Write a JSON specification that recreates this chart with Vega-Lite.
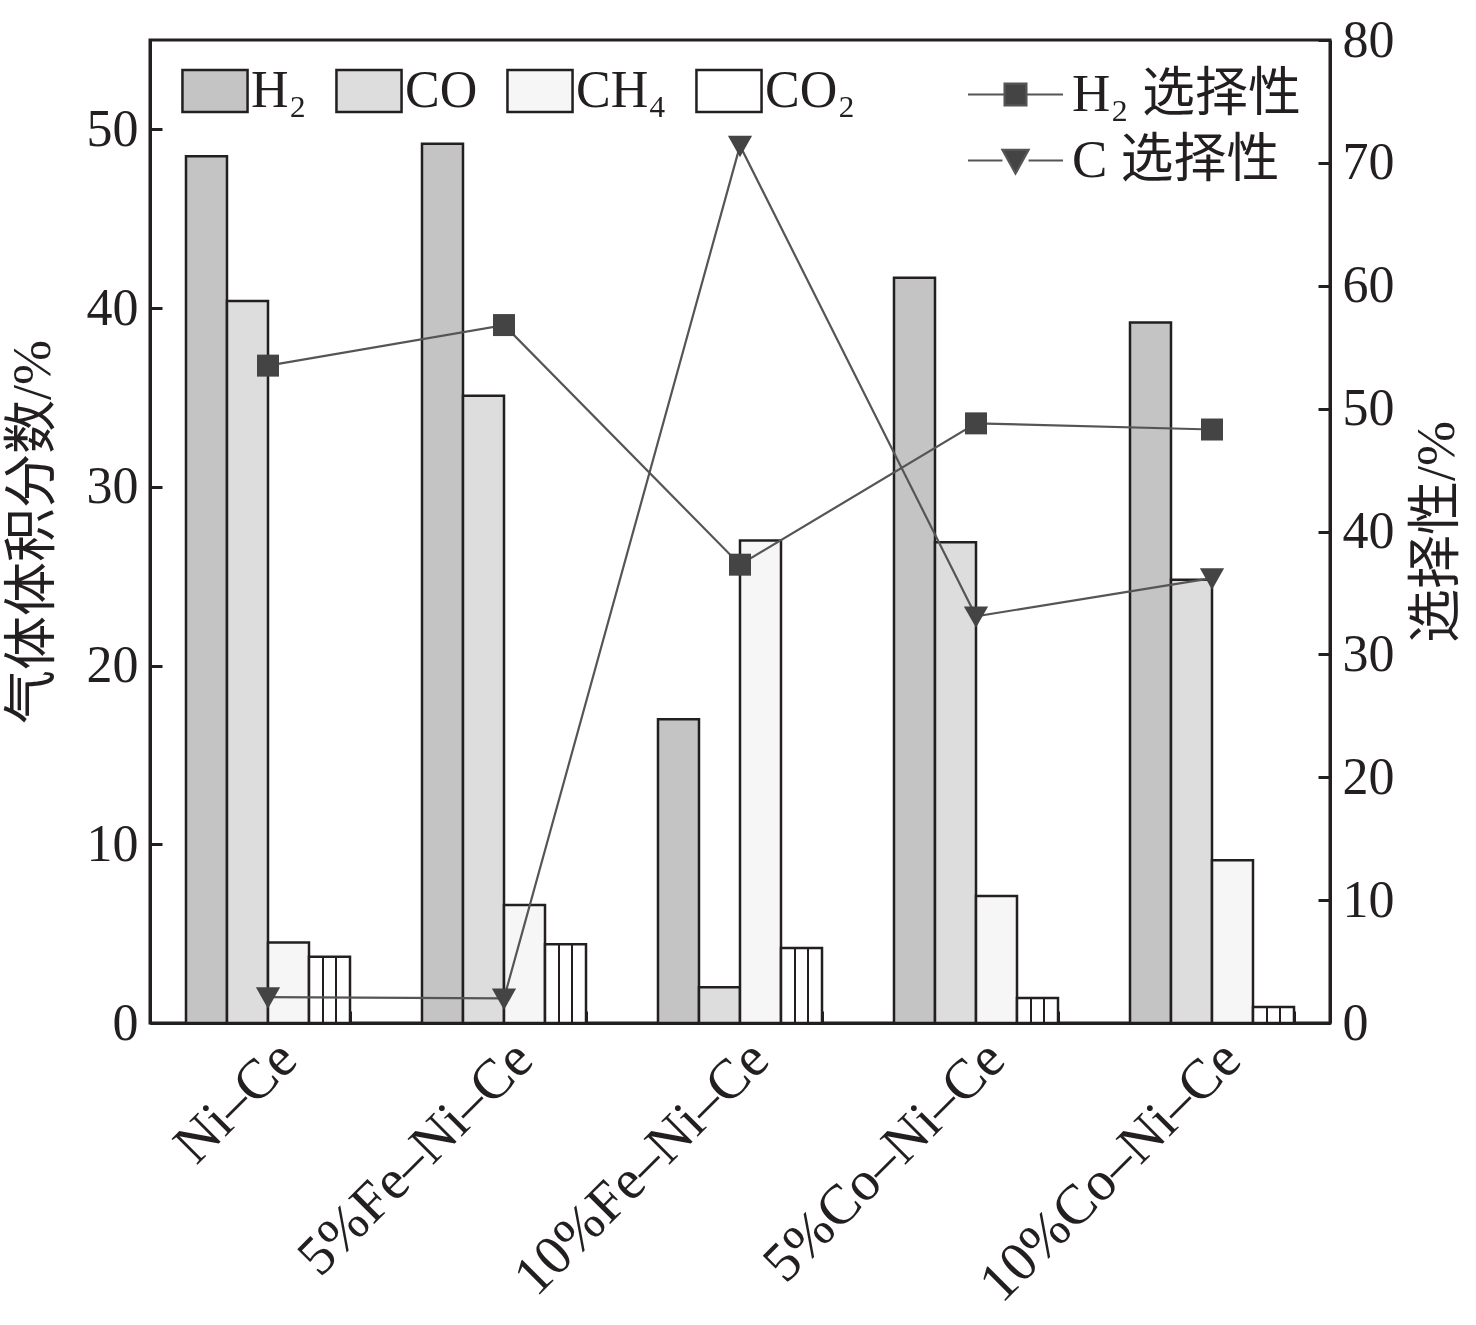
{
  "$schema": "https://vega.github.io/schema/vega-lite/v6.json",
  "autosize": "none",
  "width": 1180,
  "height": 983,
  "padding": {"left": 150, "top": 40, "right": 146, "bottom": 302},
  "background": "white",
  "config": {
    "font": "Liberation Serif, Noto Sans CJK SC, serif",
    "view": {"stroke": "#231f20", "strokeWidth": 3},
    "axis": {
      "domainColor": "#231f20",
      "domainWidth": 3,
      "tickColor": "#231f20",
      "tickWidth": 3,
      "labelColor": "#231f20",
      "titleColor": "#231f20",
      "labelFont": "Liberation Serif",
      "titleFont": "Liberation Serif, Noto Sans CJK SC",
      "titleFontWeight": "normal",
      "labelLimit": 0,
      "grid": false
    },
    "legend": {
      "labelFont": "Liberation Serif, Noto Sans CJK SC",
      "labelColor": "#231f20",
      "labelLimit": 0,
      "padding": 0
    }
  },
  "datasets": {
    "bars": [
      {"cat": "Ni–Ce", "gas": "H₂", "v": 48.5},
      {"cat": "Ni–Ce", "gas": "CO", "v": 40.4},
      {"cat": "Ni–Ce", "gas": "CH₄", "v": 4.5},
      {"cat": "Ni–Ce", "gas": "CO₂", "v": 3.7},
      {"cat": "5%Fe–Ni–Ce", "gas": "H₂", "v": 49.2},
      {"cat": "5%Fe–Ni–Ce", "gas": "CO", "v": 35.1},
      {"cat": "5%Fe–Ni–Ce", "gas": "CH₄", "v": 6.6},
      {"cat": "5%Fe–Ni–Ce", "gas": "CO₂", "v": 4.4},
      {"cat": "10%Fe–Ni–Ce", "gas": "H₂", "v": 17.0},
      {"cat": "10%Fe–Ni–Ce", "gas": "CO", "v": 2.0},
      {"cat": "10%Fe–Ni–Ce", "gas": "CH₄", "v": 27.0},
      {"cat": "10%Fe–Ni–Ce", "gas": "CO₂", "v": 4.2},
      {"cat": "5%Co–Ni–Ce", "gas": "H₂", "v": 41.7},
      {"cat": "5%Co–Ni–Ce", "gas": "CO", "v": 26.9},
      {"cat": "5%Co–Ni–Ce", "gas": "CH₄", "v": 7.1},
      {"cat": "5%Co–Ni–Ce", "gas": "CO₂", "v": 1.4},
      {"cat": "10%Co–Ni–Ce", "gas": "H₂", "v": 39.2},
      {"cat": "10%Co–Ni–Ce", "gas": "CO", "v": 24.8},
      {"cat": "10%Co–Ni–Ce", "gas": "CH₄", "v": 9.1},
      {"cat": "10%Co–Ni–Ce", "gas": "CO₂", "v": 0.9}
    ],
    "sel": [
      {"cat": "Ni–Ce", "series": "H₂ 选择性", "s": 53.5},
      {"cat": "5%Fe–Ni–Ce", "series": "H₂ 选择性", "s": 56.8},
      {"cat": "10%Fe–Ni–Ce", "series": "H₂ 选择性", "s": 37.3},
      {"cat": "5%Co–Ni–Ce", "series": "H₂ 选择性", "s": 48.8},
      {"cat": "10%Co–Ni–Ce", "series": "H₂ 选择性", "s": 48.3},
      {"cat": "Ni–Ce", "series": "C 选择性", "s": 2.1},
      {"cat": "5%Fe–Ni–Ce", "series": "C 选择性", "s": 2.0},
      {"cat": "10%Fe–Ni–Ce", "series": "C 选择性", "s": 71.4},
      {"cat": "5%Co–Ni–Ce", "series": "C 选择性", "s": 33.1},
      {"cat": "10%Co–Ni–Ce", "series": "C 选择性", "s": 36.2}
    ]
  },
  "encoding": {
    "x": {
      "field": "cat",
      "type": "nominal",
      "sort": ["Ni–Ce", "5%Fe–Ni–Ce", "10%Fe–Ni–Ce", "5%Co–Ni–Ce", "10%Co–Ni–Ce"],
      "scale": {"paddingInner": 0.305, "paddingOuter": 0.1525},
      "axis": {
        "title": null,
        "labelAngle": -45,
        "labelFontSize": 56,
        "tickBand": "extent",
        "tickSize": -12,
        "labelPadding": 20
      }
    }
  },
  "layer": [
    {
      "data": {"name": "bars"},
      "mark": {"type": "bar", "stroke": "#231f20", "strokeWidth": 2.5},
      "encoding": {
        "xOffset": {
          "field": "gas",
          "type": "nominal",
          "sort": ["H₂", "CO", "CH₄", "CO₂"],
          "scale": {"paddingInner": 0, "paddingOuter": 0}
        },
        "y": {
          "field": "v",
          "type": "quantitative",
          "scale": {"domain": [0, 55], "nice": false},
          "axis": {
            "title": "气体体积分数/%",
            "titleFontSize": 54,
            "titlePadding": 26,
            "labelFontSize": 52,
            "values": [0, 10, 20, 30, 40, 50],
            "tickSize": -12,
            "labelPadding": 24
          }
        },
        "fill": {
          "condition": {
            "test": "datum.gas == 'CO₂'",
            "value": {
              "gradient": "linear",
              "x1": 0, "y1": 0, "x2": 1, "y2": 0,
              "stops": [
                {"offset": 0, "color": "#ffffff"},
                {"offset": 0.315, "color": "#ffffff"},
                {"offset": 0.315, "color": "#231f20"},
                {"offset": 0.355, "color": "#231f20"},
                {"offset": 0.355, "color": "#ffffff"},
                {"offset": 0.645, "color": "#ffffff"},
                {"offset": 0.645, "color": "#231f20"},
                {"offset": 0.685, "color": "#231f20"},
                {"offset": 0.685, "color": "#ffffff"},
                {"offset": 1, "color": "#ffffff"}
              ]
            }
          },
          "field": "gas",
          "type": "nominal",
          "scale": {
            "domain": ["H₂", "CO", "CH₄", "CO₂"],
            "range": ["#c4c4c4", "#dddddd", "#f6f6f6", "#ffffff"]
          },
          "legend": {
            "title": null,
            "orient": "none",
            "direction": "horizontal",
            "legendX": 39,
            "legendY": 25,
            "symbolType": "M-1.55,-1H1.55V1H-1.55Z",
            "symbolSize": 1764,
            "symbolStrokeColor": "#231f20",
            "symbolStrokeWidth": 2.5,
            "symbolOpacity": 1,
            "labelFontSize": 52,
            "labelOffset": 10,
            "columnPadding": 24
          }
        }
      }
    },
    {
      "data": {"name": "sel"},
      "mark": {"type": "line", "stroke": "#555555", "strokeWidth": 2.2},
      "encoding": {
        "y": {
          "field": "s",
          "type": "quantitative",
          "scale": {"domain": [0, 80], "nice": false},
          "axis": {
            "orient": "right",
            "title": "选择性/%",
            "titleFontSize": 54,
            "titleAngle": -90,
            "titleBaseline": "top",
            "titlePadding": 16,
            "labelFontSize": 52,
            "values": [0, 10, 20, 30, 40, 50, 60, 70, 80],
            "tickSize": -12,
            "labelPadding": 24
          }
        },
        "detail": {"field": "series", "type": "nominal"}
      }
    },
    {
      "data": {"name": "sel"},
      "transform": [{"filter": "datum.series == 'H₂ 选择性'"}],
      "mark": {"type": "point", "filled": true, "fill": "#444444", "opacity": 1, "size": 484, "shape": "M-1,-1H1V1H-1Z", "strokeWidth": 0},
      "encoding": {
        "y": {"field": "s", "type": "quantitative", "scale": {"domain": [0, 80], "nice": false}, "axis": null},
        "stroke": {
          "datum": "H₂ 选择性",
          "type": "nominal",
          "scale": {"domain": ["H₂ 选择性"], "range": ["#555555"]},
          "legend": {
            "title": null,
            "orient": "none",
            "legendX": 839,
            "legendY": 28,
            "symbolType": "M-2,0H-0.5M0.5,0H2M-0.46,-0.46H0.46V0.46H-0.46Z",
            "symbolSize": 2256,
            "symbolFillColor": "#444444",
            "symbolStrokeWidth": 2.2,
            "symbolOpacity": 1,
            "labelFontSize": 53,
            "labelOffset": 30
          }
        }
      }
    },
    {
      "data": {"name": "sel"},
      "transform": [{"filter": "datum.series == 'C 选择性'"}],
      "mark": {"type": "point", "filled": true, "fill": "#444444", "opacity": 1, "size": 484, "shape": "M-1.1,-0.9H1.1L0,1.05Z", "strokeWidth": 0},
      "encoding": {
        "y": {"field": "s", "type": "quantitative", "scale": {"domain": [0, 80], "nice": false}, "axis": null},
        "stroke": {
          "datum": "C 选择性",
          "type": "nominal",
          "scale": {"domain": ["C 选择性"], "range": ["#555555"]},
          "legend": {
            "title": null,
            "orient": "none",
            "legendX": 839,
            "legendY": 94,
            "symbolType": "M-2,0H-0.55M0.55,0H2M-0.55,-0.45H0.55L0,0.55Z",
            "symbolSize": 2256,
            "symbolFillColor": "#444444",
            "symbolStrokeWidth": 2.2,
            "symbolOpacity": 1,
            "labelFontSize": 53,
            "labelOffset": 30
          }
        }
      }
    }
  ],
  "resolve": {
    "scale": {"y": "independent", "stroke": "independent"},
    "legend": {"stroke": "independent"}
  }
}
